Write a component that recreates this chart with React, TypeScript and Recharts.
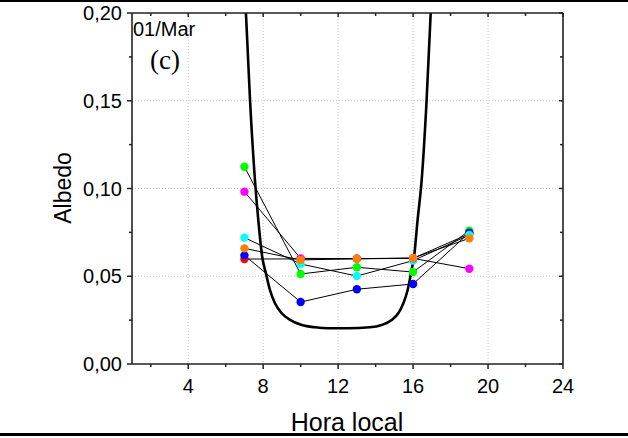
import React from "react";
import { ComposedChart, Line, Scatter, XAxis, YAxis, CartesianGrid } from "recharts";

// Measurement hours and albedo per series
const hours = [7, 10, 13, 16, 19];
const redValues = [0.0598, 0.0599, 0.06, 0.0602, 0.0742];
const greenValues = [0.1124, 0.0513, 0.0551, 0.0524, 0.076];
const blueValues = [0.0619, 0.0353, 0.0426, 0.0456, 0.0748];
const cyanValues = [0.072, 0.057, 0.0501, 0.0589, 0.0735];
const magentaValues = [0.0982, 0.0602, 0.06, 0.0602, 0.0543];
const orangeValues = [0.0659, 0.0593, 0.06, 0.0604, 0.0716];

// Thick reference curve
const curveHours = [
  7.02, 7.08, 7.3, 7.56, 7.74, 7.95, 8.15, 8.36, 8.63, 8.99, 9.43, 10.06, 10.77, 11.5, 12.5,
  13.7, 14.32, 14.86, 15.21, 15.48, 15.71, 15.92, 16.05, 16.24, 16.46, 16.72, 16.94, 17.0,
];
const curveAlbedo = [
  0.215, 0.2, 0.15, 0.105, 0.082, 0.061, 0.0515, 0.0422, 0.0346, 0.0289, 0.0251, 0.0222, 0.0209,
  0.0204, 0.0204, 0.0209, 0.0222, 0.0251, 0.0289, 0.0346, 0.0422, 0.0536, 0.061, 0.082, 0.105,
  0.15, 0.2, 0.215,
];

const xTicks = [2, 4, 6, 8, 10, 12, 14, 16, 18, 20, 22, 24];
const yTicks = [0, 0.025, 0.05, 0.075, 0.1, 0.125, 0.15, 0.175, 0.2];
const xGrid = [4, 8, 12, 16, 20];
const yGrid = [0.05, 0.1, 0.15];

const X_MIN = 1;
const X_MAX = 24;
const Y_MAX = 0.2;

// plot box (chart margins + axis sizes)
const W = 628;
const H = 438;
const M = { top: 13, right: 65, bottom: 44, left: 72 };
const Y_AXIS_W = 60;
const X_AXIS_H = 30;
const PL = M.left + Y_AXIS_W;
const PR = W - M.right;
const PT = M.top;
const PB = H - M.bottom - X_AXIS_H;

const AXIS = "#222";
const SANS = "'Liberation Sans', Arial, sans-serif";
const SERIF = "'Liberation Serif', 'Times New Roman', serif";

const series = [
  { name: "red", color: "#ff0000", values: redValues },
  { name: "green", color: "#00ff00", values: greenValues },
  { name: "blue", color: "#0000ff", values: blueValues },
  { name: "cyan", color: "#00ffff", values: cyanValues },
  { name: "magenta", color: "#ff00ff", values: magentaValues },
  { name: "orange", color: "#ff8000", values: orangeValues },
].map((s) => ({ ...s, rows: hours.map((h, i) => ({ x: h, y: s.values[i] })) }));

const curveRows = curveHours.map((h, i) => ({ x: h, y: curveAlbedo[i] }));

const isMajorX = (v: number) => v % 4 === 0;
const isMajorY = (v: number) => Math.round(v * 1000) % 50 === 0;

// tick positions for the top/right frame
const tickX = (v: number) => PL + ((v - X_MIN) / (X_MAX - X_MIN)) * (PR - PL);
const tickY = (v: number) => PB - (v / Y_MAX) * (PB - PT);

const BottomTick = (props: any) => {
  const { x, y, payload } = props;
  const v = payload.value;
  const major = isMajorX(v);
  return (
    <g>
      <line x1={x} x2={x} y1={y} y2={y + (major ? 5 : 3)} stroke={AXIS} strokeWidth={1.5} />
      {major && (
        <text x={x} y={y + 29} textAnchor="middle" fontSize={20} fontFamily={SANS} fill="#000">
          {v}
        </text>
      )}
    </g>
  );
};

const LeftTick = (props: any) => {
  const { x, y, payload } = props;
  const v = payload.value;
  const major = isMajorY(v);
  return (
    <g>
      <line x1={x} x2={x - (major ? 5 : 3)} y1={y} y2={y} stroke={AXIS} strokeWidth={1.5} />
      {major && (
        <text x={x - 10} y={y + 7} textAnchor="end" fontSize={20} fontFamily={SANS} fill="#000">
          {v.toFixed(2).replace(".", ",")}
        </text>
      )}
    </g>
  );
};

export default function App() {
  return (
    <div style={{ position: "absolute", left: 0, top: 0, width: W, height: H, background: "#fff" }}>
      <div style={{ position: "absolute", left: 0, top: 0, width: W, height: 1.5, background: "#000" }} />
      <ComposedChart width={W} height={H} margin={M}>
        <CartesianGrid
          horizontal
          vertical
          horizontalValues={yGrid}
          verticalValues={xGrid}
          stroke="#c4c4c4"
          strokeDasharray="1 2"
        />
        <XAxis
          type="number"
          dataKey="x"
          domain={[X_MIN, X_MAX]}
          ticks={xTicks}
          interval={0}
          allowDataOverflow
          height={X_AXIS_H}
          tickSize={0}
          tickMargin={0}
          tickLine={false}
          axisLine={{ stroke: AXIS, strokeWidth: 1.6 }}
          tick={<BottomTick />}
        />
        <YAxis
          type="number"
          dataKey="y"
          domain={[0, Y_MAX]}
          ticks={yTicks}
          interval={0}
          allowDataOverflow
          width={Y_AXIS_W}
          tickSize={0}
          tickMargin={0}
          tickLine={false}
          axisLine={{ stroke: AXIS, strokeWidth: 1.6 }}
          tick={<LeftTick />}
        />
        <Line
          data={curveRows}
          dataKey="y"
          type="monotone"
          stroke="#000"
          strokeWidth={2.6}
          dot={false}
          activeDot={false}
          isAnimationActive={false}
        />
        {series.map((s) => (
          <Line
            key={`line-${s.name}`}
            data={s.rows}
            dataKey="y"
            type="linear"
            stroke="#000"
            strokeWidth={1}
            dot={false}
            activeDot={false}
            isAnimationActive={false}
          />
        ))}
        {series.map((s) => (
          <Scatter
            key={`dots-${s.name}`}
            data={s.rows}
            dataKey="y"
            fill={s.color}
            isAnimationActive={false}
            shape={(p: any) => <circle cx={p.cx} cy={p.cy} r={4.2} fill={s.color} />}
          />
        ))}
      </ComposedChart>
      <svg width={W} height={H} style={{ position: "absolute", left: 0, top: 0, pointerEvents: "none" }}>
        {/* top and right frame with inward ticks */}
        <line x1={PL} x2={PR} y1={PT} y2={PT} stroke={AXIS} strokeWidth={1.6} />
        <line x1={PR} x2={PR} y1={PT} y2={PB} stroke={AXIS} strokeWidth={1.6} />
        {xTicks.map((v) => (
          <line
            key={`tt-${v}`}
            x1={tickX(v)}
            x2={tickX(v)}
            y1={PT}
            y2={PT + (isMajorX(v) ? 4 : 3)}
            stroke={AXIS}
            strokeWidth={1.5}
          />
        ))}
        {yTicks.map((v) => (
          <line
            key={`rt-${v}`}
            x1={PR}
            x2={PR - (isMajorY(v) ? 4 : 3)}
            y1={tickY(v)}
            y2={tickY(v)}
            stroke={AXIS}
            strokeWidth={1.5}
          />
        ))}
        <text x={133} y={36} fontSize={20} fontFamily={SANS} fill="#000">
          01/Mar
        </text>
        <text x={150} y={69} fontSize={27} fontFamily={SERIF} fill="#000">
          (c)
        </text>
        <text
          x={71}
          y={188}
          transform="rotate(-90 71 188)"
          textAnchor="middle"
          fontSize={23}
          fontFamily={SANS}
          fill="#000"
        >
          Albedo
        </text>
        <text x={347} y={431} textAnchor="middle" fontSize={25} fontFamily={SANS} fill="#000">
          Hora local
        </text>
      </svg>
      <div style={{ position: "absolute", left: 0, top: 433, width: W, height: 3, background: "#000" }} />
    </div>
  );
}
